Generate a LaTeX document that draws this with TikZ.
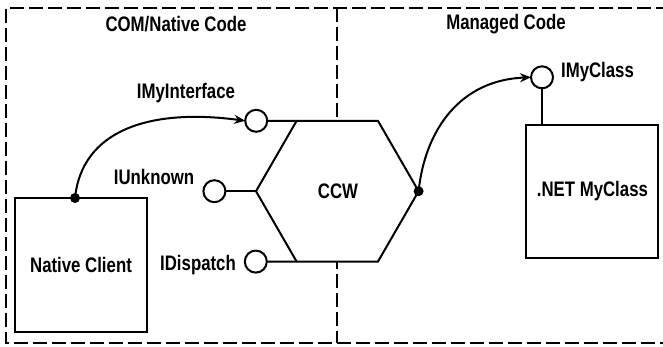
\documentclass[tikz,border=0pt]{standalone}
\usepackage{fontspec}
\newfontfamily\cond{Liberation Sans}[FakeStretch=0.8]
\usetikzlibrary{shapes.geometric,arrows.meta,calc}
\begin{document}
\begin{tikzpicture}[x=1pt,y=-1pt,
  every node/.style={font=\cond\bfseries\fontsize{21}{25}\selectfont},
  frame/.style={line width=2pt, dash pattern=on 14pt off 5pt},
  iface/.style={circle, draw, line width=2pt, minimum size=22pt, inner sep=0pt, outer sep=0pt},
  boxnode/.style={draw, line width=2pt, inner sep=0pt, outer sep=0pt},
  conn/.style={line width=2pt},
  arr/.style={line width=2pt, -{Stealth[length=11pt,width=9pt]}},
  dotc/.style={circle, fill, inner sep=0pt, minimum size=10pt},
  lbl/.style={inner sep=0pt}]
\useasboundingbox (0,0) rectangle (663,346);
\clip (0,0) rectangle (663,346);
% frame
\draw[frame] (670,7.5) -- (6,7.5) -- (6,343) -- (670,343);
\coordinate (dtop) at (337,7.5);
\coordinate (dbot) at (337,343);
\draw[frame] (dtop) -- (dbot);
\node[lbl] (tcom) at (176,24) {COM/Native Code};
\node[lbl] (tman) at (506,24) {Managed Code};
% CCW hexagon
\node[regular polygon, regular polygon sides=6, draw, line width=2pt, fill=white,
      minimum size=162.6pt, inner sep=0pt, outer sep=0pt] (ccw) at (337.3,191.2) {};
\node[lbl] (tccw) at (338,191) {CCW};
% interfaces
\node[iface] (imi) at (256.2,120.8) {};
\node[iface] (iu) at (214.4,191.2) {};
\node[iface] (idp) at (255.8,261.6) {};
\draw[conn] (imi.east) -- (ccw.120);
\draw[conn] (iu.east) -- (ccw.180);
\draw[conn] (idp.east) -- (ccw.240);
\node[lbl] (timi) at (186,93) {IMyInterface};
\node[lbl] (tiu) at (154,177) {IUnknown};
\node[lbl] (tidp) at (198,265) {IDispatch};
% native client
\node[boxnode, minimum width=132pt, minimum height=134pt] (nc) at (81,265) {Native Client};
\node[dotc] (ncdot) at ([xshift=-6pt]nc.north) {};
\draw[arr] (ncdot.center) .. controls (82,130) and (150,108) .. (imi.west);
% managed
\node[boxnode, minimum width=132pt, minimum height=132.7pt] (net) at (592.4,191.4) {.NET MyClass};
\node[iface] (imc) at (542,77.3) {};
\node[lbl] (timc) at (597.5,72) {IMyClass};
\draw[conn] (imc.south) -- (imc.south |- net.north);
\node[dotc] (ccwdot) at (ccw.0) {};
\draw[arr] (ccwdot.center) .. controls (425,130) and (460,80) .. (imc.west);
\end{tikzpicture}
\end{document}
